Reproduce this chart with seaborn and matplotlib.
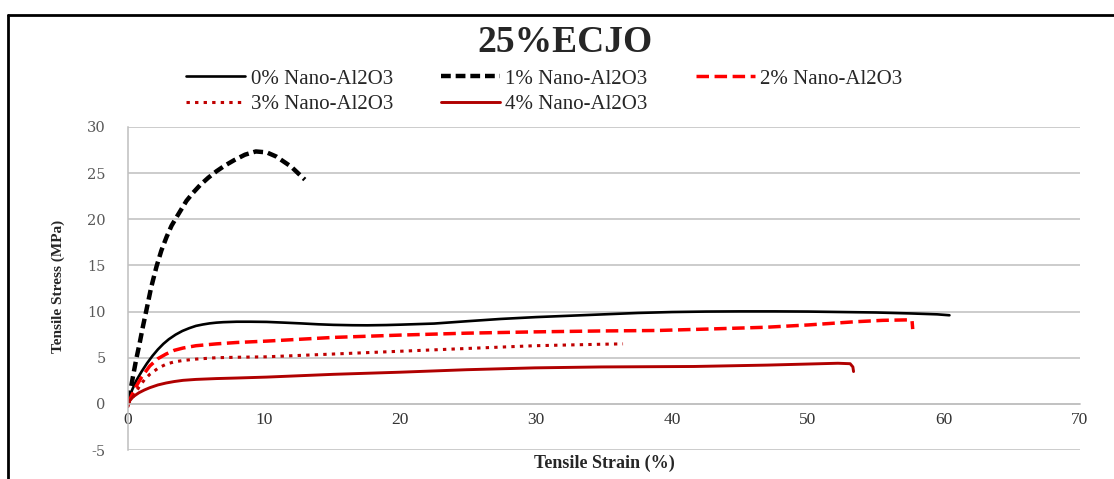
import matplotlib
matplotlib.use("Agg")
import matplotlib.pyplot as plt
import seaborn as sns
import pandas as pd
from matplotlib.lines import Line2D

# ---- data ----
labels = ["0% Nano-Al2O3", "1% Nano-Al2O3", "2% Nano-Al2O3",
          "3% Nano-Al2O3", "4% Nano-Al2O3"]

strain_0 = [0, 0.3, 0.6, 1.0, 1.4, 1.8, 2.2, 2.6, 3.0, 3.5, 4.0, 4.5, 5.0, 5.5,
            6.0, 6.5, 7.0, 8.0, 9.0, 10.2, 11.5, 12.7, 14.0, 15.1, 16.5, 17.6,
            19.0, 20.0, 22.5, 24.9, 27.4, 30.0, 32.5, 35.0, 37.5, 40.0, 42.5,
            45.0, 47.5, 50.0, 52.5, 55.0, 57.5, 59.5, 60.4]
stress_0 = [0.3, 1.5, 2.5, 3.5, 4.4, 5.2, 5.9, 6.5, 7.0, 7.5, 7.9, 8.2, 8.45, 8.6,
            8.72, 8.8, 8.85, 8.9, 8.9, 8.88, 8.8, 8.72, 8.62, 8.56, 8.52, 8.51,
            8.54, 8.58, 8.7, 8.95, 9.2, 9.4, 9.55, 9.7, 9.85, 9.95, 10.0,
            10.02, 10.02, 10.0, 9.95, 9.9, 9.8, 9.7, 9.6]

strain_1 = [0, 0.2, 0.37, 0.6, 0.86, 1.1, 1.36, 1.7, 2.1, 2.45, 2.84, 3.2, 3.6,
            4.3, 4.8, 5.3, 5.9, 6.5, 7.1, 7.8, 8.6, 9.4, 10.2, 10.9, 11.5, 12.0,
            12.5, 13.0]
stress_1 = [0.4, 1.6, 3.0, 4.8, 6.6, 8.4, 10.2, 12.6, 14.9, 16.6, 18.1, 19.3, 20.3,
            22.0, 22.9, 23.7, 24.5, 25.2, 25.8, 26.4, 27.0, 27.35, 27.25, 26.8,
            26.2, 25.7, 25.0, 24.3]

strain_2 = [0, 0.3, 0.6, 1.0, 1.6, 2.2, 2.8, 3.4, 4.05, 5.0, 6.5, 8.0, 10.2, 15.1,
            20.0, 24.9, 29.9, 34.8, 38.9, 42.5, 46.9, 50.0, 53.5, 55.5, 57.3,
            57.65, 57.7]
stress_2 = [0, 1.0, 1.9, 2.9, 4.1, 4.9, 5.4, 5.8, 6.05, 6.3, 6.5, 6.65, 6.8, 7.2,
            7.45, 7.66, 7.8, 7.9, 7.95, 8.1, 8.3, 8.55, 8.9, 9.05, 9.1,
            9.0, 8.1]

strain_3 = [0, 0.4, 0.8, 1.2, 1.6, 2.2, 2.8, 3.4, 4.05, 5.0, 6.5, 8.0, 10.2, 15.1,
            20.0, 24.9, 29.9, 34.8, 36.4]
stress_3 = [0, 0.8, 1.8, 2.6, 3.2, 3.85, 4.3, 4.55, 4.7, 4.85, 5.0, 5.05, 5.1, 5.4,
            5.7, 6.0, 6.3, 6.46, 6.5]

strain_4 = [0, 0.1, 0.4, 0.8, 1.2, 1.6, 2.2, 2.8, 3.4, 4.05, 5.0, 6.5, 8.0, 10.2,
            15.1, 20.0, 24.9, 29.9, 34.8, 41.6, 47.0, 52.2, 53.1, 53.3, 53.35]
stress_4 = [-0.3, 0.3, 0.8, 1.2, 1.5, 1.75, 2.05, 2.26, 2.42, 2.55, 2.65, 2.74, 2.8,
            2.9, 3.2, 3.43, 3.7, 3.9, 4.0, 4.05, 4.2, 4.4, 4.35, 4.0, 3.5]

x_ticks = [0, 10, 20, 30, 40, 50, 60, 70]
y_ticks = [-5, 0, 5, 10, 15, 20, 25, 30]

title = "25%ECJO"
x_label = "Tensile Strain (%)"
y_label = "Tensile Stress (MPa)"

# ---- style ----
sns.set_style("white")
plt.rcParams["font.family"] = ["Liberation Serif", "DejaVu Serif"]
plt.rcParams["axes.unicode_minus"] = False

W, H = 1114, 479
fig = plt.figure(figsize=(W / 100, H / 100), dpi=100)
ax_l, ax_r, ax_b, ax_t = 128, 1080, 450, 127
ax = fig.add_axes([ax_l / W, (H - ax_b) / H, (ax_r - ax_l) / W, (ax_b - ax_t) / H])

series = [
    (strain_0, stress_0, dict(color="black", lw=1.9, linestyle="-")),
    (strain_1, stress_1, dict(color="black", lw=3.2, linestyle=(0, (2.2, 1.1)))),
    (strain_2, stress_2, dict(color="#FF0000", lw=2.5, linestyle=(0, (3.6, 1.6)))),
    (strain_3, stress_3, dict(color="#C00000", lw=2.2, linestyle=(0, (1.1, 1.7)))),
    (strain_4, stress_4, dict(color="#B00000", lw=2.1, linestyle="-")),
]

handles = []
for (xs, ys, st), lab in zip(series, labels):
    df = pd.DataFrame({"strain": xs, "stress": ys})
    sns.lineplot(data=df, x="strain", y="stress", ax=ax, sort=False,
                 estimator=None, solid_joinstyle="round", dash_joinstyle="round",
                 **st)
    handles.append(Line2D([], [], **st))

ax.set_xlim(0, 70)
ax.set_ylim(-5, 30)
ax.set_xticks(x_ticks)
ax.set_yticks(y_ticks)

ax.yaxis.grid(True, color="#BFBFBF", lw=1.1)
ax.xaxis.grid(False)
for s in ["top", "right"]:
    ax.spines[s].set_visible(False)
ax.spines["left"].set_color("#BFBFBF")
ax.spines["left"].set_linewidth(1.1)
ax.spines["bottom"].set_position(("data", 0))
ax.spines["bottom"].set_color("#BFBFBF")
ax.spines["bottom"].set_linewidth(1.1)
ax.set_axisbelow(True)

ax.tick_params(axis="x", length=0, pad=6, labelsize=12.5, labelcolor="#333333")
ax.tick_params(axis="y", length=0, pad=16, labelsize=10.5, labelcolor="#595959")

ax.set_xlabel(x_label, fontsize=13, fontweight="bold")
ax.xaxis.set_label_coords(0.5, -0.04)
ax.xaxis.label.set_va("center")
ax.set_ylabel(y_label, fontsize=11, fontweight="bold")
ax.yaxis.set_label_coords(-70 / (ax_r - ax_l), 0.505)
ax.yaxis.label.set_va("center")

fig.text(565 / W, 1 - 42 / H, title, ha="center", va="center",
         fontsize=27, fontweight="bold")

order = [0, 3, 1, 4, 2]
fig.legend([handles[i] for i in order], [labels[i] for i in order],
           loc="upper left", bbox_to_anchor=(186 / W, 1 - 69 / H), ncol=3,
           frameon=False, fontsize=15, handlelength=2.85, handletextpad=0.25,
           columnspacing=2.3, labelspacing=0.3, borderpad=0, borderaxespad=0)

# outer frame (top and left edges visible)
fig.add_artist(Line2D([8 / W, 1.0], [1 - 15 / H, 1 - 15 / H], color="black",
                      lw=2.0, transform=fig.transFigure))
fig.add_artist(Line2D([8 / W, 8 / W], [1 - 15 / H, 0.0], color="black",
                      lw=2.0, transform=fig.transFigure))

fig.canvas.draw()
for t in ax.yaxis.get_ticklabels():
    t.set_fontfamily("DejaVu Serif")
    t.set_fontsize(10.5)
    t.set_color("#595959")

fig.savefig("out.png", dpi=100)
